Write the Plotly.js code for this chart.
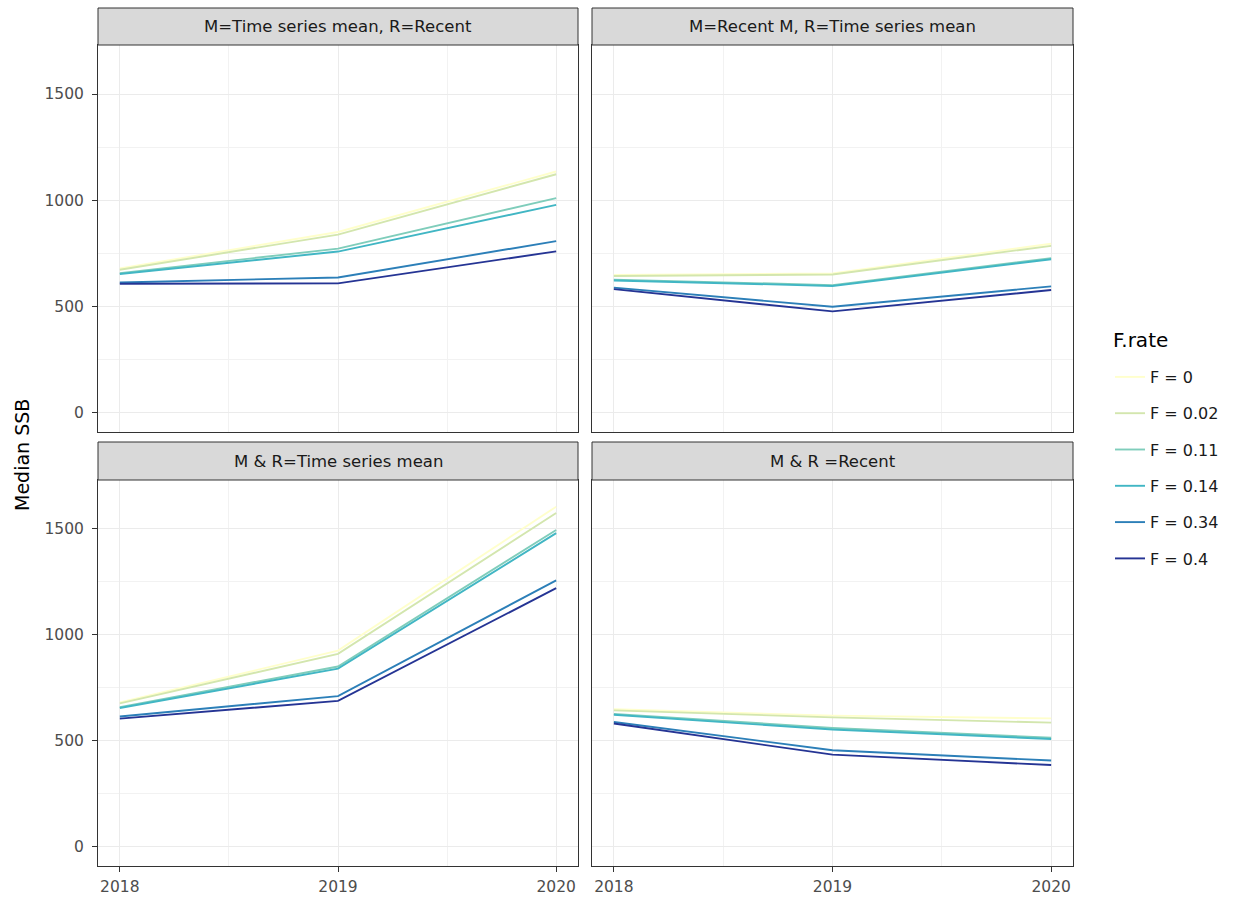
<!DOCTYPE html>
<html>
<head>
<meta charset="utf-8">
<script src="https://cdn.plot.ly/plotly-3.0.1.min.js"></script>
<style>html,body{margin:0;padding:0;background:#fff;}#chart{width:1238px;height:898px;}</style>
</head>
<body>
<div id="chart"></div>
<script>
// ---- data ----
var years = [2018, 2019, 2020];
var fLabels = ["F = 0", "F = 0.02", "F = 0.11", "F = 0.14", "F = 0.34", "F = 0.4"];
var fColors = ["#ffffcc", "#d3e6ae", "#7fcdbb", "#41b6c4", "#2c7fb8", "#253494"];
var panelTitles = ["M=Time series mean, R=Recent", "M=Recent M, R=Time series mean",
                   "M & R=Time series mean", "M & R =Recent"];

// rows: F = 0, 0.02, 0.11, 0.14, 0.34, 0.4 ; columns: 2018, 2019, 2020
var ssbTsMeanM_RecentR = [
  [678, 850, 1135],
  [672, 838, 1122],
  [656, 772, 1010],
  [652, 758, 978],
  [612, 636, 807],
  [606, 608, 759]
];
var ssbRecentM_TsMeanR = [
  [648, 655, 795],
  [643, 650, 785],
  [626, 600, 727],
  [622, 596, 722],
  [588, 498, 594],
  [581, 476, 577]
];
var ssbTsMeanMR = [
  [680, 925, 1605],
  [676, 910, 1575],
  [658, 850, 1495],
  [654, 840, 1480],
  [614, 710, 1257],
  [604, 688, 1220]
];
var ssbRecentMR = [
  [648, 618, 605],
  [643, 610, 585],
  [626, 560, 514],
  [622, 553, 508],
  [588, 455, 406],
  [581, 434, 385]
];
var yTicks = [0, 500, 1000, 1500];
var yTitle = "Median SSB";
var legendTitle = "F.rate";

// ---- build ----
var FONT = "DejaVu Sans, Liberation Sans, Arial, sans-serif";
var panels = [ssbTsMeanM_RecentR, ssbRecentM_TsMeanR, ssbTsMeanMR, ssbRecentMR];
var axisIds = [["x", "y"], ["x2", "y2"], ["x3", "y3"], ["x4", "y4"]];
var traces = [];
panels.forEach(function (pd, p) {
  pd.forEach(function (row, i) {
    traces.push({
      x: years, y: row, type: "scatter", mode: "lines",
      name: fLabels[i], legendgroup: fLabels[i], showlegend: p === 0,
      line: {color: fColors[i], width: 1.9},
      xaxis: axisIds[p][0], yaxis: axisIds[p][1],
      hoverinfo: "x+y+name"
    });
  });
});

// pixel geometry helpers (margins l=98, r=165, t=8, b=32)
var ML = 98, MR = 165, MT = 8, MB = 32, W = 1238, H = 898;
var PW = W - ML - MR, PH = H - MT - MB;
function px(x) { return (x - ML) / PW; }
function py(y) { return (H - MB - y) / PH; }

var colL = [px(98), px(578)], colR = [px(592), px(1073)];
var rowT = [py(432), py(45)], rowB = [py(866), py(480)];
var stripT = [py(45), py(8)], stripB = [py(480), py(442)];

var xRange = [2017.9, 2020.1], yRange = [-92, 1731];
function xAx(domain, anchor, showLabels) {
  return {
    domain: domain, anchor: anchor, range: xRange, tickmode: "array", tickvals: years,
    ticktext: years.map(String), showticklabels: showLabels, ticks: showLabels ? "outside" : "",
    ticklen: 5, tickcolor: "#333333", tickwidth: 1, ticklabelstandoff: 1,
    showgrid: true, gridcolor: "#ebebeb", gridwidth: 1.2, zeroline: false,
    minor: {tickvals: [2018.5, 2019.5], showgrid: true, gridcolor: "#f2f2f2", gridwidth: 0.6, ticks: ""},
    showline: true, mirror: true, linecolor: "#333333", linewidth: 1,
    tickfont: {family: FONT, size: 15.5, color: "#4d4d4d"},
    fixedrange: true
  };
}
function yAx(domain, anchor, showLabels) {
  return {
    domain: domain, anchor: anchor, range: yRange, tickmode: "array", tickvals: yTicks,
    showticklabels: showLabels, ticks: showLabels ? "outside" : "", ticklen: 5,
    tickcolor: "#333333", tickwidth: 1, ticklabelstandoff: 5,
    showgrid: true, gridcolor: "#ebebeb", gridwidth: 1.2, zeroline: false,
    minor: {tickvals: [250, 750, 1250], showgrid: true, gridcolor: "#f2f2f2", gridwidth: 0.6, ticks: ""},
    showline: true, mirror: true, linecolor: "#333333", linewidth: 1,
    tickfont: {family: FONT, size: 15.5, color: "#4d4d4d"},
    fixedrange: true
  };
}

var shapes = [], annotations = [];
var strips = [[colL, stripT], [colR, stripT], [colL, stripB], [colR, stripB]];
strips.forEach(function (s, i) {
  shapes.push({type: "rect", xref: "paper", yref: "paper", x0: s[0][0], x1: s[0][1],
    y0: s[1][0], y1: s[1][1], fillcolor: "#d9d9d9", line: {color: "#333333", width: 1}, layer: "above"});
  annotations.push({xref: "paper", yref: "paper", x: (s[0][0] + s[0][1]) / 2, y: (s[1][0] + s[1][1]) / 2,
    text: panelTitles[i], showarrow: false, xanchor: "center", yanchor: "middle",
    font: {family: FONT, size: 16.5, color: "#1a1a1a"}});
});
annotations.push({xref: "paper", yref: "paper", x: px(22), y: py(455), text: yTitle, textangle: -90,
  showarrow: false, xanchor: "center", yanchor: "middle",
  font: {family: FONT, size: 19, color: "#000000"}});
annotations.push({xref: "paper", yref: "paper", x: px(1111), y: py(340), text: legendTitle,
  showarrow: false, xanchor: "left", yanchor: "middle",
  font: {family: FONT, size: 20, color: "#000000"}});

var layout = {
  width: W, height: H,
  margin: {l: ML, r: MR, t: MT, b: MB},
  paper_bgcolor: "#ffffff", plot_bgcolor: "#ffffff",
  showlegend: true,
  xaxis: xAx(colL, "y", false),
  yaxis: yAx(rowT, "x", true),
  xaxis2: xAx(colR, "y2", false),
  yaxis2: yAx(rowT, "x2", false),
  xaxis3: xAx(colL, "y3", true),
  yaxis3: yAx(rowB, "x3", true),
  xaxis4: xAx(colR, "y4", true),
  yaxis4: yAx(rowB, "x4", false),
  legend: {
    x: px(1110), y: py(360), xanchor: "left", yanchor: "top",
    traceorder: "grouped", tracegroupgap: 12.5,
    font: {family: FONT, size: 16, color: "#1a1a1a"},
    bgcolor: "rgba(255,255,255,0)"
  },
  shapes: shapes, annotations: annotations
};

Plotly.newPlot("chart", traces, layout, {displayModeBar: false});
</script>
</body>
</html>
